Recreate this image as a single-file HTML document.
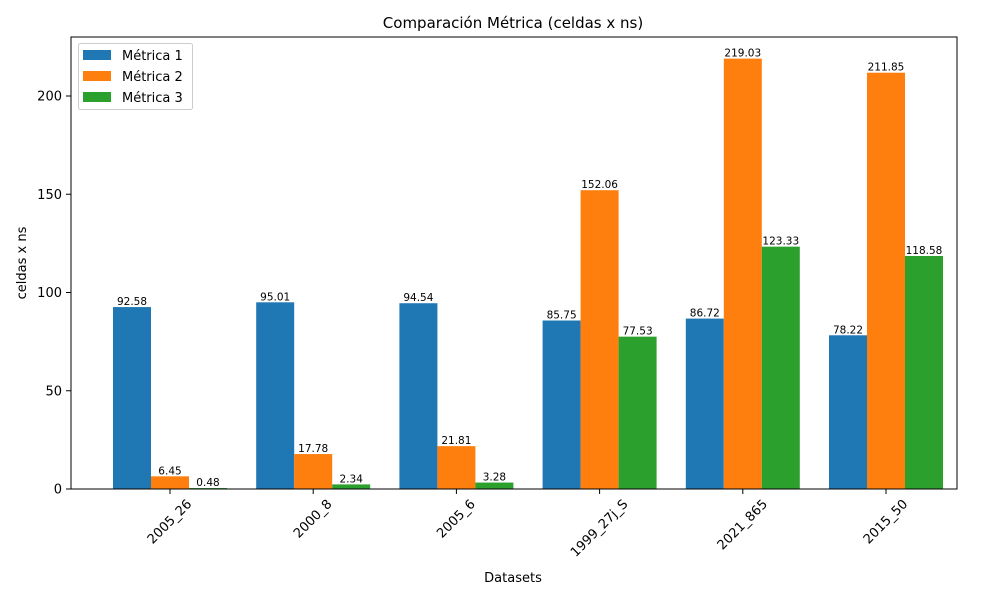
<!DOCTYPE html>
<html><head><meta charset="utf-8"><style>
body{margin:0;background:#fff;font-family:"DejaVu Sans","Liberation Sans",sans-serif;}
svg text{font-family:"DejaVu Sans","Liberation Sans",sans-serif;}
</style></head><body>
<svg id="chart" width="1000" height="600" xmlns="http://www.w3.org/2000/svg">
<rect width="1000" height="600" fill="#fff"/>
<text x="513" y="28" font-size="15" text-anchor="middle">Comparación Métrica (celdas x ns)</text>
<g id="bars"></g>
<g id="axes"></g>
<rect x="71" y="37" width="886" height="452" fill="none" stroke="#000" stroke-width="1"/>
<text x="513" y="582" font-size="13" text-anchor="middle">Datasets</text>
<text transform="translate(26,263) rotate(-90)" font-size="13" text-anchor="middle">celdas x ns</text>
<g>
<rect x="78.5" y="43.5" width="114" height="66" fill="#fff" stroke="#ccc" rx="2"/>
<rect x="83" y="50" width="28" height="10" fill="#1f77b4"/><text x="122" y="60" font-size="13">Métrica 1</text>
<rect x="83" y="71" width="28" height="10" fill="#ff7f0e"/><text x="122" y="81" font-size="13">Métrica 2</text>
<rect x="83" y="92" width="28" height="10" fill="#2ca02c"/><text x="122" y="102" font-size="13">Métrica 3</text>
</g>
</svg>
<script>
const categories=["2005_26","2000_8","2005_6","1999_27j_S","2021_865","2015_50"];
const metrica1=[92.58,95.01,94.54,85.75,86.72,78.22];
const metrica2=[6.45,17.78,21.81,152.06,219.03,211.85];
const metrica3=[0.48,2.34,3.28,77.53,123.33,118.58];
const yTicks=[0,50,100,150,200];
const NS="http://www.w3.org/2000/svg";
const y0=489,pxPer=1.965;
function yScale(v){return y0-v*pxPer;}
function xCenter(i){return 170+143.2*i;}
const bw=38;
const series=[[metrica1,"#1f77b4",-1],[metrica2,"#ff7f0e",0],[metrica3,"#2ca02c",1]];
const bars=document.getElementById('bars'),axes=document.getElementById('axes');
function mk(tag,attrs,parent){const e=document.createElementNS(NS,tag);for(const k in attrs)e.setAttribute(k,attrs[k]);parent.appendChild(e);return e;}
series.forEach((s,si)=>{s[0].forEach((v,i)=>{
 const cx=xCenter(i)+s[2]*bw;
 const r=mk('rect',{x:cx-bw/2,y:yScale(v),width:bw,height:v*pxPer,fill:s[1]},bars);
 
 
 const t=mk('text',{x:cx,y:yScale(v)-2,'font-size':10.5,'text-anchor':'middle'},bars);
 t.textContent=v.toFixed(2);
 
 
});});
yTicks.forEach(v=>{
 const y=yScale(v);
 mk('line',{x1:66,x2:71,y1:y,y2:y,stroke:'#000'},axes);
 const t=mk('text',{x:62,y:y+4.5,'font-size':13,'text-anchor':'end'},axes);
 t.textContent=v;
 
 
});
categories.forEach((c,i)=>{
 const x=xCenter(i);
 mk('line',{x1:x,x2:x,y1:489,y2:494,stroke:'#000'},axes);
 const t=mk('text',{'font-size':13,'text-anchor':'middle','dominant-baseline':'central'},axes);
 t.textContent=c;
 
 
 const w=t.getComputedTextLength(),h=15;
 const half=(w+h)*0.7071/2;
 t.setAttribute('transform',`translate(${x},${497+half}) rotate(-45)`);
});
</script>
</body></html>
